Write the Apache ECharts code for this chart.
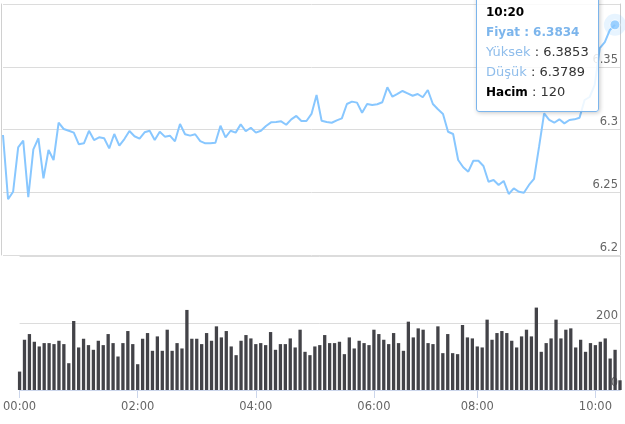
<!DOCTYPE html>
<html><head><meta charset="utf-8">
<script src="https://cdn.jsdelivr.net/npm/echarts@6/dist/echarts.min.js"></script>
<style>html,body{margin:0;padding:0;background:#fff;overflow:hidden}#c{width:625px;height:424px}</style>
</head><body><div id="c"></div>
<script>
const categories = [
"00:00","00:05","00:10","00:15","00:20","00:25","00:30","00:35","00:40","00:45","00:50","00:55",
"01:00","01:05","01:10","01:15","01:20","01:25","01:30","01:35","01:40","01:45","01:50","01:55",
"02:00","02:05","02:10","02:15","02:20","02:25","02:30","02:35","02:40","02:45","02:50","02:55",
"03:00","03:05","03:10","03:15","03:20","03:25","03:30","03:35","03:40","03:45","03:50","03:55",
"04:00","04:05","04:10","04:15","04:20","04:25","04:30","04:35","04:40","04:45","04:50","04:55",
"05:00","05:05","05:10","05:15","05:20","05:25","05:30","05:35","05:40","05:45","05:50","05:55",
"06:00","06:05","06:10","06:15","06:20","06:25","06:30","06:35","06:40","06:45","06:50","06:55",
"07:00","07:20","07:25","07:30","07:35","07:40","07:45","07:50","07:55",
"08:00","08:05","08:10","08:15","08:20","08:25","08:30","08:35","08:40","08:45","08:50","08:55",
"09:00","09:05","09:10","09:15","09:20","09:25","09:30","09:35","09:40","09:45","09:50","09:55",
"10:00","10:05","10:10","10:15","10:20","10:25"
];
const price = [
6.2956,6.2444,6.2504,6.2858,6.2911,6.2460,6.2842,6.2930,6.2611,6.2837,
6.2757,6.3054,6.3004,6.2990,6.2975,6.2882,6.2890,6.2990,6.2916,6.2938,
6.2930,6.2850,6.2964,6.2871,6.2924,6.2988,6.2946,6.2927,6.2978,6.2990,
6.2916,6.2982,6.2943,6.2951,6.2906,6.3044,6.2962,6.2951,6.2962,6.2908,
6.2890,6.2890,6.2895,6.3030,6.2938,6.2990,6.2975,6.3041,6.2986,6.3014,
6.2975,6.2990,6.3028,6.3057,6.3060,6.3065,6.3038,6.3081,6.3108,6.3068,
6.3068,6.3124,6.3275,6.3070,6.3060,6.3054,6.3073,6.3089,6.3203,6.3222,
6.3214,6.3134,6.3203,6.3195,6.3201,6.3217,6.3336,6.3261,6.3283,6.3307,
6.3288,6.3269,6.3283,6.3257,6.3315,6.3203,6.3161,6.3124,6.2982,6.2964,
6.2757,6.2699,6.2664,6.2751,6.2751,6.2709,6.2584,6.2598,6.2558,6.2590,
6.2486,6.2531,6.2504,6.2496,6.2558,6.2606,6.2863,6.3129,6.3076,6.3054,
6.3081,6.3049,6.3076,6.3081,6.3094,6.3235,6.3259,6.3355,6.3649,6.3697,
6.3793,6.3834
];
const volume = [
55,150,167,144,130,140,140,137,147,137,
80,206,127,153,134,120,147,134,167,140,
100,140,176,137,77,153,170,117,160,117,
180,117,140,124,239,153,153,137,170,147,
190,157,176,130,104,147,164,154,137,140,
134,173,120,137,137,154,127,180,114,104,
130,134,164,140,140,144,107,157,124,147,
140,134,180,167,150,137,170,140,117,204,
157,184,180,140,137,190,110,167,110,107,
194,157,154,130,127,210,150,170,176,170,
147,127,160,180,160,246,114,140,154,210,
154,180,184,127,150,114,140,134,144,154,
94,120,29
];
const priceTicks = {min: 6.2, max: 6.4, step: 0.05};
const volumeTicks = {min: 0, max: 400, step: 200};
const tipIndex = 121;
const tipHigh = 6.3853;
const tipLow = 6.3789;

const FONT = 'DejaVu Sans';
const LINE = '#7cb5ec';
const GRIDC = '#dcdcdc';
const labelStyle = {inside: true, margin: 2, verticalAlign: 'bottom', color: '#666', fontSize: 11.5, fontFamily: FONT, padding: [0, 0, 1, 0]};
const evenHour = (i, v) => /^(00|02|04|06|08|10):00$/.test(v);

const chart = echarts.init(document.getElementById('c'), null, {renderer: 'canvas'});
chart.setOption({
  animation: false,
  grid: [
    {left: 3, right: 5, top: 4, height: 251},
    {left: 3, right: 5, top: 256, bottom: 34}
  ],
  tooltip: {
    trigger: 'axis',
    axisPointer: {type: 'none'},
    alwaysShowContent: true,
    transitionDuration: 0,
    showDelay: 0,
    position: [476, -6],
    backgroundColor: 'rgba(255,255,255,0.85)',
    borderColor: '#7cb5ec',
    borderWidth: 1,
    padding: [8, 9],
    extraCssText: 'box-shadow:1px 1px 4px rgba(0,0,0,0.22);border-radius:3px;',
    textStyle: {fontFamily: FONT, fontSize: 13, color: '#333'},
    formatter: function (params) {
      const i = params[0].dataIndex;
      const lh = 'line-height:19.7px;white-space:nowrap;';
      return '<div style="' + lh + 'font-weight:bold;font-size:12px;color:#000">' + categories[i] + '</div>' +
        '<div style="' + lh + 'font-weight:bold;font-size:12px;color:#7cb5ec">Fiyat : ' + price[i].toFixed(4) + '</div>' +
        '<div style="' + lh + '"><span style="color:#8fbdeb">Yüksek</span> : ' + tipHigh.toFixed(4) + '</div>' +
        '<div style="' + lh + '"><span style="color:#8fbdeb">Düşük</span> : ' + tipLow.toFixed(4) + '</div>' +
        '<div style="' + lh + '"><span style="font-weight:bold;font-size:12px;color:#000">Hacim</span> : ' + volume[i] + '</div>';
    }
  },
  xAxis: [
    {type: 'category', gridIndex: 0, data: categories, boundaryGap: false, show: false},
    {type: 'category', gridIndex: 1, data: categories, boundaryGap: false,
      axisLine: {show: true, lineStyle: {color: '#ccd6eb'}},
      axisTick: {show: true, interval: evenHour, length: 8, lineStyle: {color: '#ccd6eb'}},
      axisLabel: {interval: evenHour, color: '#666', fontSize: 11.5, fontFamily: FONT, margin: 11},
      splitLine: {show: false}}
  ],
  yAxis: [
    {type: 'value', gridIndex: 0, position: 'right', min: priceTicks.min, max: priceTicks.max, interval: priceTicks.step,
      axisLine: {show: true, lineStyle: {color: '#cccccc'}}, axisTick: {show: false},
      axisLabel: Object.assign({showMaxLabel: false}, labelStyle),
      splitLine: {show: true, lineStyle: {color: GRIDC, width: 1}}},
    {type: 'value', gridIndex: 0, position: 'left', offset: 2, min: priceTicks.min, max: priceTicks.max,
      axisLine: {show: true, lineStyle: {color: '#d0d0d0'}}, axisTick: {show: false}, axisLabel: {show: false}, splitLine: {show: false}},
    {type: 'value', gridIndex: 1, position: 'right', min: volumeTicks.min, max: volumeTicks.max, interval: volumeTicks.step,
      axisLine: {show: true, lineStyle: {color: '#cccccc'}}, axisTick: {show: false},
      axisLabel: Object.assign({showMaxLabel: false}, labelStyle),
      splitLine: {show: true, lineStyle: {color: GRIDC, width: 1}}}
  ],
  series: [
    {name: 'Fiyat', type: 'line', xAxisIndex: 0, yAxisIndex: 0, data: price, showSymbol: false, symbol: 'none',
      lineStyle: {color: LINE, width: 2}, itemStyle: {color: LINE}, z: 3},
    {name: 'halo', type: 'scatter', xAxisIndex: 0, yAxisIndex: 0, silent: true, z: 4,
      data: [[tipIndex, price[tipIndex]]], symbolSize: 20, itemStyle: {color: 'rgba(124,181,236,0.25)'}},
    {name: 'dot', type: 'scatter', xAxisIndex: 0, yAxisIndex: 0, silent: true, z: 5,
      data: [[tipIndex, price[tipIndex]]], symbolSize: 9, itemStyle: {color: LINE, borderColor: '#fff', borderWidth: 1}},
    {name: 'Hacim', type: 'bar', xAxisIndex: 1, yAxisIndex: 2, data: volume, barWidth: 3.3, clip: false,
      itemStyle: {color: '#434348'}}
  ]
});
chart.dispatchAction({type: 'showTip', seriesIndex: 0, dataIndex: tipIndex});
</script></body></html>
